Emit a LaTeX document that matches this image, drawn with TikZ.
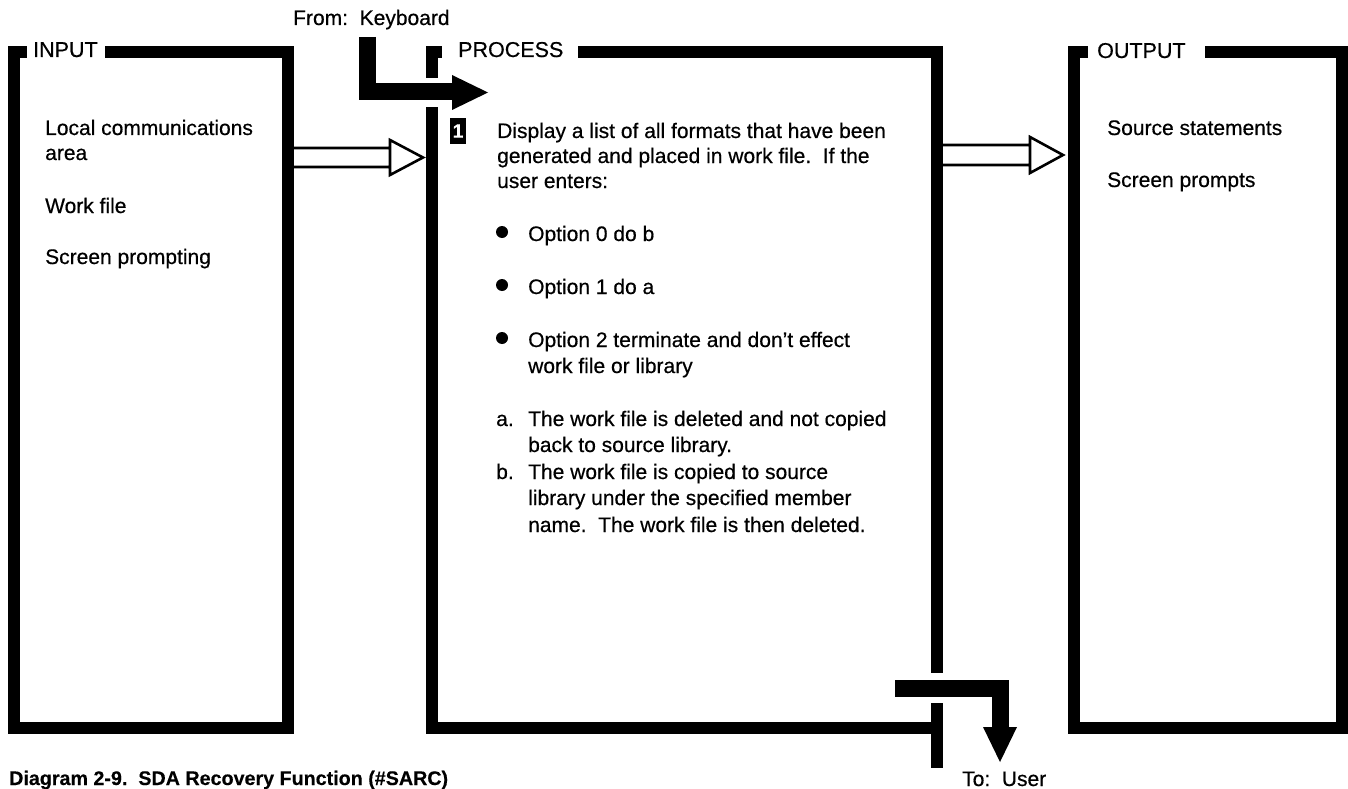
\documentclass[tikz,border=0pt]{standalone}
\usepackage{fontspec}
\setmainfont[FakeBold=0.5]{Liberation Sans}
\newfontfamily\capfont[FakeBold=0.3]{Liberation Sans}
\begin{document}
\begin{tikzpicture}[x=1pt,y=-1pt,
  frame/.style={line width=12pt, line join=miter, line cap=butt},
  txt/.style={anchor=base west, inner sep=0pt, font=\fontsize{21}{25}\selectfont},
  head/.style={anchor=base west, inner sep=0pt, font=\fontsize{21.5}{25}\selectfont},
  hollow/.style={line width=2.6pt, line join=miter},
  fat/.style={line width=17pt, line join=miter, line cap=butt},
  dot/.style={circle, fill=black, inner sep=0pt, minimum size=12pt},
]
\useasboundingbox (0,0) rectangle (1348,789);

% ---------- INPUT box ----------
\node[head] (hin) at (33,57) {INPUT};
\draw[frame] (105,52) -- (288,52) -- (288,728) -- (14,728) -- (14,52) -- (27,52);
\node[txt] (i1) at (45,135) {Local communications};
\node[txt] (i2) at (45,160) {area};
\node[txt] (i3) at (45,213) {Work file};
\node[txt] (i4) at (45,264) {Screen prompting};

% ---------- PROCESS box ----------
\node[head] (hpr) at (458,57) {PROCESS};
\draw[frame] (578,52) -- (937,52) -- (937,673);
\draw[frame] (937,703) -- (937,768);
\draw[frame] (937,728) -- (432,728) -- (432,107);
\draw[frame] (432,78) -- (432,52) -- (442,52);

\node[fill=black, text=white, inner sep=0pt, minimum width=16pt, minimum height=25pt,
      font=\capfont\fontsize{19}{20}\bfseries\selectfont] (m1) at (458,131) {1};
\node[txt] (p1) at (497,138) {Display a list of all formats that have been};
\node[txt] (p2) at (497,163) {generated and placed in work file.\ \ If the};
\node[txt] (p3) at (497,188) {user enters:};

\node[dot] (b0) at (502,232) {};
\node[txt] (o0) at (528,241) {Option 0 do b};
\node[dot] (b1) at (502,285) {};
\node[txt] (o1) at (528,294) {Option 1 do a};
\node[dot] (b2) at (502,338) {};
\node[txt] (o2) at (528,347) {Option 2 terminate and don't effect};
\node[txt] (o2b) at (528,373) {work file or library};

\node[txt] (la) at (496,426) {a.};
\node[txt] (a1) at (528,426) {The work file is deleted and not copied};
\node[txt] (a2) at (528,452) {back to source library.};
\node[txt] (lb) at (496,479) {b.};
\node[txt] (b1t) at (528,479) {The work file is copied to source};
\node[txt] (b2t) at (528,505) {library under the specified member};
\node[txt] (b3t) at (528,532) {name.\ \ The work file is then deleted.};

% ---------- OUTPUT box ----------
\node[head] (hout) at (1097,58) {OUTPUT};
\draw[frame] (1205,52) -- (1342,52) -- (1342,728) -- (1074,728) -- (1074,52) -- (1088,52);
\node[txt] (s1) at (1107,135) {Source statements};
\node[txt] (s2) at (1107,187) {Screen prompts};

% ---------- hollow arrows ----------
\coordinate (inR) at (294,157.5);
\coordinate (prL) at (423,157.5);
\draw[hollow] ([yshift=-9.5pt]inR) -- ([yshift=-9.5pt]inR -| 390,0) -- (390,140)
  -- (prL) -- (390,175) -- ([yshift=9.5pt]inR -| 390,0) -- ([yshift=9.5pt]inR);

\coordinate (prR) at (943,155);
\coordinate (outL) at (1063,155);
\draw[hollow] ([yshift=-10pt]prR) -- ([yshift=-10pt]prR -| 1030,0) -- (1030,137)
  -- (outL) -- (1030,173) -- ([yshift=10pt]prR -| 1030,0) -- ([yshift=10pt]prR);

% ---------- From: Keyboard ----------
\node[txt] (kb) at (293,25) {From:\ \ Keyboard};
\coordinate (kbs) at (367,37);
\coordinate (kbh) at (452,91.5);
\draw[fat] (kbs) -- (kbs |- kbh) -- (kbh);
\fill (452,75) -- (488,92.5) -- (452,110) -- cycle;

% ---------- To: User ----------
\node[txt] (usr) at (962,786) {To:\ \ User};
\coordinate (us) at (895,688.5);
\coordinate (ue) at (1000,727);
\draw[fat] (us) -- (us -| ue) -- (ue);
\fill (983,727) -- (1017,727) -- (1000,762) -- cycle;

% ---------- caption ----------
\node[anchor=base west, inner sep=0pt, font=\capfont\fontsize{19.7}{24}\bfseries\selectfont] (cap)
  at (9,785) {Diagram 2-9.\ \ SDA Recovery Function (\#SARC)};
\end{tikzpicture}
\end{document}
